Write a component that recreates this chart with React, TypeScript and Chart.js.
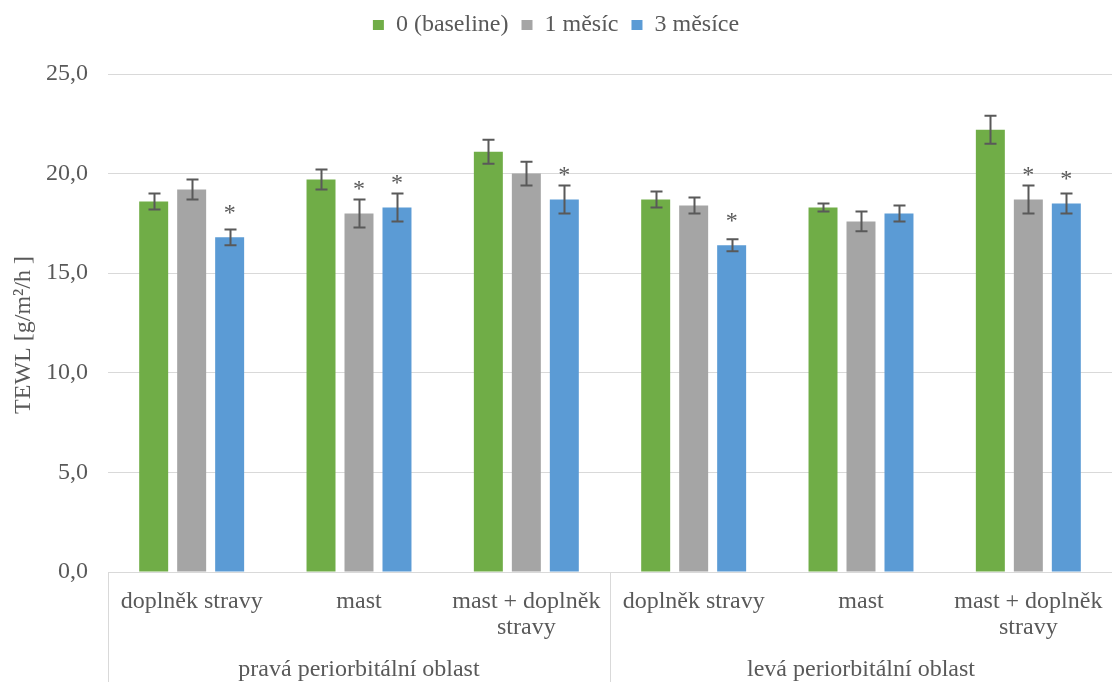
import { useEffect, useRef } from "react";
import { Chart, registerables } from "chart.js";

Chart.register(...registerables);

// Categories (second level of the x axis) and their groups (first level)
const categories: (string | string[])[] = [
  "doplněk stravy",
  "mast",
  ["mast + doplněk", "stravy"],
  "doplněk stravy",
  "mast",
  ["mast + doplněk", "stravy"],
];
const groups = ["pravá periorbitální oblast", "levá periorbitální oblast"];
const groupSizes = [3, 3];

const seriesNames = ["0 (baseline)", "1 měsíc", "3 měsíce"];
const seriesColors = ["#70AD47", "#A5A5A5", "#5B9BD5"];

// Mean TEWL values
const baseline = [18.6, 19.7, 21.1, 18.7, 18.3, 22.2];
const month1 = [19.2, 18.0, 20.0, 18.4, 17.6, 18.7];
const month3 = [16.8, 18.3, 18.7, 16.4, 18.0, 18.5];

// Error bar half-lengths
const baselineErr = [0.4, 0.5, 0.6, 0.4, 0.2, 0.7];
const month1Err = [0.5, 0.7, 0.6, 0.4, 0.5, 0.7];
const month3Err = [0.4, 0.7, 0.7, 0.3, 0.4, 0.5];

// Significance markers (*)
const baselineSig = [false, false, false, false, false, false];
const month1Sig = [false, true, false, false, false, true];
const month3Sig = [true, true, true, true, false, true];

const yMin = 0;
const yMax = 25;
const yStep = 5;
const yTitle = "TEWL [g/m²/h ]";

const FONT = "'Liberation Serif', 'Times New Roman', serif";
const FONT_SIZE = 24;
const TEXT = "#595959";
const GRID = "#D9D9D9";

const errors = [baselineErr, month1Err, month3Err];
const marks = [baselineSig, month1Sig, month3Sig];

// Extra space between the legend and the plot area
const legendSpacing = {
  id: "legendSpacing",
  beforeInit(chart: any) {
    const legend = chart.legend;
    if (!legend) return;
    const fit = legend.fit;
    legend.fit = function () {
      fit.call(this);
      this.height += 27;
    };
  },
};

// Error bars, significance asterisks, group labels and y title
const overlay = {
  id: "overlay",
  afterDatasetsDraw(chart: any) {
    const { ctx, scales } = chart;
    const x = scales.x;
    const y = scales.y;
    ctx.save();

    chart.data.datasets.forEach((ds: any, di: number) => {
      const meta = chart.getDatasetMeta(di);
      meta.data.forEach((bar: any, i: number) => {
        const v = ds.data[i] as number;
        const e = errors[di][i];
        const yt = y.getPixelForValue(v + e);
        const yb = y.getPixelForValue(v - e);
        const cx = Math.round(bar.x) + 0.5;
        ctx.strokeStyle = TEXT;
        ctx.lineWidth = 2;
        ctx.beginPath();
        ctx.moveTo(cx, yt);
        ctx.lineTo(cx, yb);
        ctx.moveTo(cx - 6, yt);
        ctx.lineTo(cx + 6, yt);
        ctx.moveTo(cx - 6, yb);
        ctx.lineTo(cx + 6, yb);
        ctx.stroke();
        if (marks[di][i]) {
          ctx.fillStyle = TEXT;
          ctx.font = `${FONT_SIZE}px ${FONT}`;
          ctx.textAlign = "center";
          ctx.textBaseline = "alphabetic";
          ctx.fillText("*", bar.x, y.getPixelForValue(v) - 17);
        }
      });
    });

    // group dividers and labels below the category labels
    const bottom = chart.height;
    let start = 0;
    ctx.strokeStyle = GRID;
    ctx.lineWidth = 1;
    ctx.fillStyle = TEXT;
    ctx.font = `${FONT_SIZE}px ${FONT}`;
    ctx.textAlign = "center";
    ctx.textBaseline = "middle";
    groups.forEach((g, gi) => {
      const end = start + groupSizes[gi] - 1;
      const left =
        start === 0
          ? x.left
          : (x.getPixelForValue(start - 1) + x.getPixelForValue(start)) / 2;
      const right =
        end === categories.length - 1
          ? x.right
          : (x.getPixelForValue(end) + x.getPixelForValue(end + 1)) / 2;
      const lx = Math.round(left) + 0.5;
      ctx.beginPath();
      ctx.moveTo(lx, x.top);
      ctx.lineTo(lx, bottom);
      ctx.stroke();
      ctx.fillText(g, (left + right) / 2, 670);
      start = end + 1;
    });

    // y axis title
    ctx.translate(24, 335);
    ctx.rotate(-Math.PI / 2);
    ctx.fillText(yTitle, 0, 0);

    ctx.restore();
  },
};

export default function App() {
  const ref = useRef<HTMLCanvasElement>(null);

  useEffect(() => {
    if (!ref.current) return;
    const seriesData = [baseline, month1, month3];
    const chart = new Chart(ref.current, {
      type: "bar",
      data: {
        labels: categories,
        datasets: seriesNames.map((name, i) => ({
          label: name,
          data: seriesData[i],
          backgroundColor: seriesColors[i],
          borderWidth: 0,
          categoryPercentage: 0.681,
          barPercentage: 0.763,
        })),
      },
      options: {
        animation: false,
        responsive: true,
        maintainAspectRatio: false,
        devicePixelRatio: 1,
        layout: { padding: 0 },
        plugins: {
          legend: {
            position: "top",
            labels: {
              boxWidth: 11,
              boxHeight: 10,
              padding: 13,
              color: TEXT,
              font: { family: FONT, size: FONT_SIZE },
            },
          },
          tooltip: { enabled: false },
        },
        scales: {
          x: {
            grid: { display: false, drawTicks: false },
            border: { display: true, color: GRID, width: 1 },
            ticks: {
              color: TEXT,
              font: { family: FONT, size: FONT_SIZE, lineHeight: 26 / 24 },
              padding: 17,
              maxRotation: 0,
              autoSkip: false,
            },
            afterFit(scale: any) {
              scale.height = 110;
              // the plot runs to the right edge of the canvas
              scale.paddingLeft = 0;
              scale.paddingRight = 0;
            },
          },
          y: {
            min: yMin,
            max: yMax,
            grid: { color: GRID, lineWidth: 1, drawTicks: false },
            border: { display: false },
            ticks: {
              stepSize: yStep,
              color: TEXT,
              padding: 20,
              font: { family: FONT, size: FONT_SIZE },
              callback: (v: any) => Number(v).toFixed(1).replace(".", ","),
            },
            afterFit(scale: any) {
              scale.width = 108;
            },
          },
        },
      },
      plugins: [legendSpacing, overlay],
    });
    return () => chart.destroy();
  }, []);

  return (
    <div
      style={{
        position: "absolute",
        left: 0,
        top: 0,
        width: 1112,
        height: 682,
        background: "#ffffff",
      }}
    >
      <canvas ref={ref} />
    </div>
  );
}
